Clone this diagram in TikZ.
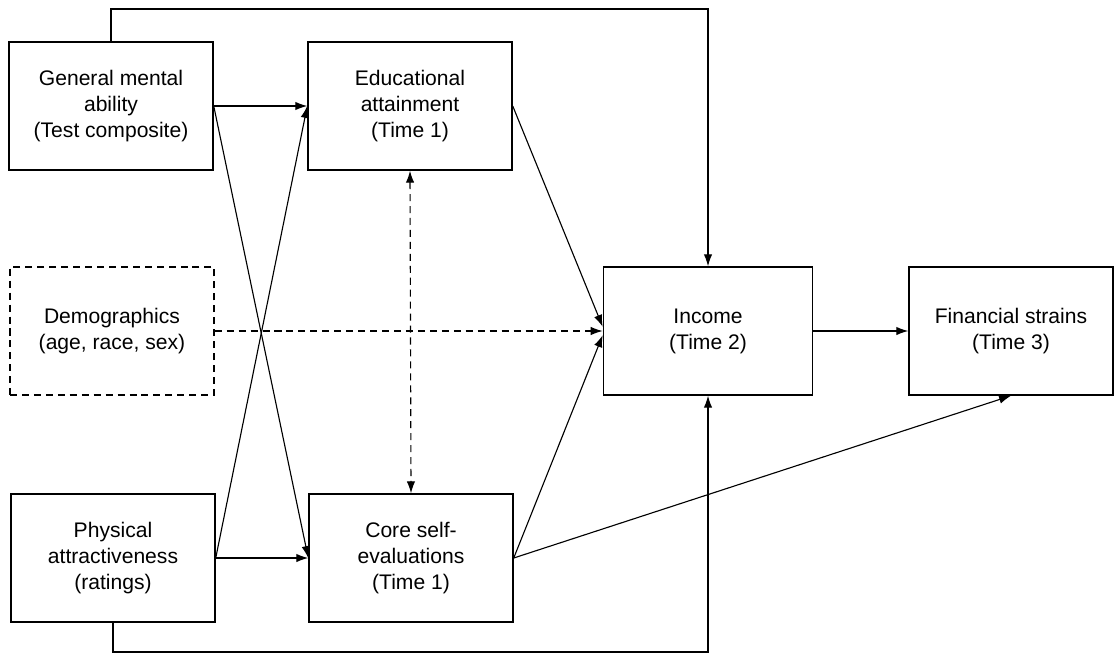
\documentclass[tikz,border=0pt]{standalone}
\usepackage{fontspec}
\setmainfont{Liberation Sans}
\usetikzlibrary{arrows.meta}

\begin{document}
\begin{tikzpicture}[
  x=0.025cm, y=-0.025cm,
  block/.style={rectangle, draw, line width=1pt, align=center, inner sep=0pt,
    minimum width=5.1cm, minimum height=3.2cm, font=\fontsize{15}{18.5}\selectfont},
  dblock/.style={block, dash pattern=on 5pt off 3.5pt},
  arr/.style={-{Latex[length=8.5pt,width=6pt]}, line width=0.8pt},
  darr/.style={arr, dash pattern=on 5pt off 3.5pt}
]
\useasboundingbox (0,0) rectangle (1115,656);

\node[block] (gma) at (111,106) {General mental\\ability\\(Test composite)};
\node[block] (edu) at (410,106) {Educational\\attainment\\(Time 1)};
\node[dblock] (demo) at (112,331) {Demographics\\(age, race, sex)};
\node[block, minimum width=5.23cm] (inc) at (708,331) {Income\\(Time 2)};
\node[block] (fs) at (1011,331) {Financial strains\\(Time 3)};
\node[block] (pa) at (113,558) {Physical\\attractiveness\\(ratings)};
\node[block] (cse) at (411,558) {Core self-\\evaluations\\(Time 1)};

\coordinate (topc) at (708,9);
\coordinate (botc) at (708,652);

\draw[arr] (gma.north) |- (topc) -- (inc.north);
\draw[arr] (pa.south) |- (botc) -- (inc.south);
\draw[arr] (gma.east) -- (edu.west);
\draw[arr] (gma.east) -- (cse.west);
\draw[arr] (pa.east) -- (edu.west);
\draw[arr] (pa.east) -- (cse.west);
\draw[darr] (demo.east) -- (inc.west);
\draw[darr, {Latex[length=8.5pt,width=6pt]}-{Latex[length=8.5pt,width=6pt]}] (edu.south) -- (cse.north);
\draw[arr] (edu.east) -- ([yshift=3pt]inc.west);
\draw[arr] (cse.east) -- ([yshift=-3pt]inc.west);
\draw[arr] (cse.east) -- (fs.south);
\draw[arr] (inc.east) -- (fs.west);

\end{tikzpicture}
\end{document}
